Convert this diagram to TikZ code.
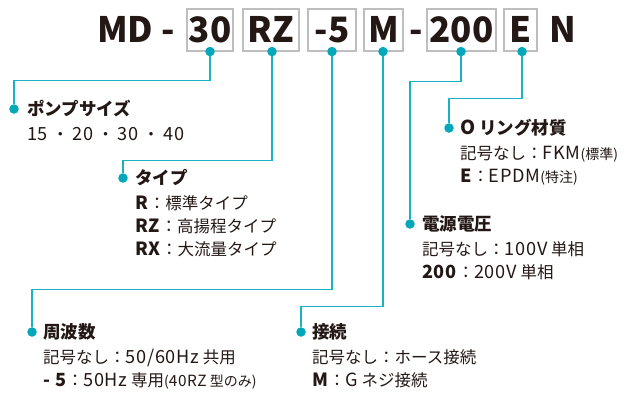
\documentclass[tikz,border=0pt]{standalone}
\usepackage{fontspec}
\setmainfont{Noto Sans CJK JP}
\newfontfamily\lat{Noto Sans CJK JP}[LetterSpace=4, Scale=1.1]
\usetikzlibrary{positioning}

\definecolor{leadcolor}{RGB}{24,178,196}
\definecolor{dotcolor}{RGB}{0,168,186}
\definecolor{boxcolor}{RGB}{190,190,190}
\definecolor{inkcolor}{RGB}{35,24,21}

\newcommand{\la}[1]{{\lat #1}}
\newcommand{\paren}[1]{{\fontsize{14}{14}\selectfont(#1)}}
\newcommand{\sep}{\hspace{4pt}・\hspace{4pt}}

\tikzset{
  headtext/.style={inner sep=0pt, text=inkcolor, text height=24pt, text depth=0pt, font=\fontsize{35}{35}\selectfont\bfseries},
  codebox/.style={headtext, draw=boxcolor, line width=1.1pt, minimum height=42pt},
  leadline/.style={draw=leadcolor, line width=1.3pt},
  leaddot/.style={circle, fill=dotcolor, minimum size=9.5pt, inner sep=0pt},
  itemtitle/.style={anchor=west, inner sep=0pt, text=inkcolor, text height=15.4pt, text depth=2.4pt, font=\fontsize{17.5}{17.5}\selectfont\bfseries},
  itembody/.style={inner sep=0pt, text=inkcolor, text height=14.5pt, text depth=2.3pt, font=\fontsize{16.5}{16.5}\selectfont},
}

\begin{document}
\begin{tikzpicture}[x=1pt,y=-1pt]
\useasboundingbox (0,0) rectangle (643,392);

% model code
\node[headtext, anchor=west] (md) at (97,30) {MD -};
\node[codebox, minimum width=46pt] (c30) at (210,30) {30};
\node[codebox, minimum width=56pt] (cRZ) at (271,30) {RZ};
\node[codebox, minimum width=48pt] (c5) at (332,30) {-5};
\node[codebox, minimum width=39pt] (cM) at (383.5,30) {M};
\node[headtext] (dash) at (416,30) {-};
\node[codebox, minimum width=69pt] (c200) at (461.5,30) {200};
\node[codebox, minimum width=33pt] (cE) at (520.5,30) {E};
\node[headtext] (cN) at (563,30) {N};

% item dots
\node[leaddot] (dps) at (14,109) {};
\node[leaddot] (dty) at (123,178) {};
\node[leaddot] (dor) at (449,128) {};
\node[leaddot] (dvl) at (410,224) {};
\node[leaddot] (dhz) at (32,332) {};
\node[leaddot] (dcn) at (301,332) {};

% leaders
\draw[leadline] (c30.south) -- ++(0,29) -| (dps);
\draw[leadline] (cRZ.south) ++(1,0) -- ++(0,109) -| (dty);
\draw[leadline] (c5.south) -- ++(0,238) -| (dhz);
\draw[leadline] (cM.south) ++(-0.5,0) -- ++(0,255) -| (dcn);
\draw[leadline] (c200.south) ++(-0.5,0) -- ++(0,30) -| (dvl);
\draw[leadline] (cE.south) ++(1.5,0) -- ++(0,47) -| (dor);

\node[leaddot] at (c30.south) {};
\node[leaddot] at ([xshift=1pt]cRZ.south) {};
\node[leaddot] at (c5.south) {};
\node[leaddot] at ([xshift=-0.5pt]cM.south) {};
\node[leaddot] at ([xshift=-0.5pt]c200.south) {};
\node[leaddot] at ([xshift=1.5pt]cE.south) {};

% pump size
\node[itemtitle] (ps0) at (27,109) {ポンプサイズ};
\node[itembody, below=7.5pt of ps0.south west, anchor=north west] (ps1) {\la{15}\sep\la{20}\sep\la{30}\sep\la{40}};

% type
\node[itemtitle] (ty0) at (135,178) {タイプ};
\node[itembody, below=7.5pt of ty0.south west, anchor=north west] (ty1) {\textbf{\la{R}}：標準タイプ};
\node[itembody, below=5.7pt of ty1.south west, anchor=north west] (ty2) {\textbf{\la{RZ}}：高揚程タイプ};
\node[itembody, below=5.7pt of ty2.south west, anchor=north west] (ty3) {\textbf{\la{RX}}：大流量タイプ};

% o-ring
\node[itemtitle] (or0) at (460,128) {\la{O} リング材質};
\node[itembody, below=7.5pt of or0.south west, anchor=north west] (or1) {記号なし：\la{FKM}\paren{標準}};
\node[itembody, below=5.7pt of or1.south west, anchor=north west] (or2) {\textbf{\la{E}}：\la{EPDM}\paren{特注}};

% voltage
\node[itemtitle] (vl0) at (422,224) {電源電圧};
\node[itembody, below=7.5pt of vl0.south west, anchor=north west] (vl1) {記号なし：\la{100V} 単相};
\node[itembody, below=5.7pt of vl1.south west, anchor=north west] (vl2) {\textbf{\la{200}}：\la{200V} 単相};

% frequency
\node[itemtitle] (hz0) at (43,332) {周波数};
\node[itembody, below=7.5pt of hz0.south west, anchor=north west] (hz1) {記号なし：\la{50/60Hz} 共用};
\node[itembody, below=5.7pt of hz1.south west, anchor=north west] (hz2) {\textbf{\la{- 5}}：\la{50Hz} 専用\paren{\la{40RZ} 型のみ}};

% connection
\node[itemtitle] (cn0) at (312,332) {接続};
\node[itembody, below=7.5pt of cn0.south west, anchor=north west] (cn1) {記号なし：ホース接続};
\node[itembody, below=5.7pt of cn1.south west, anchor=north west] (cn2) {\textbf{\la{M}}：\la{G} ネジ接続};
\end{tikzpicture}
\end{document}
